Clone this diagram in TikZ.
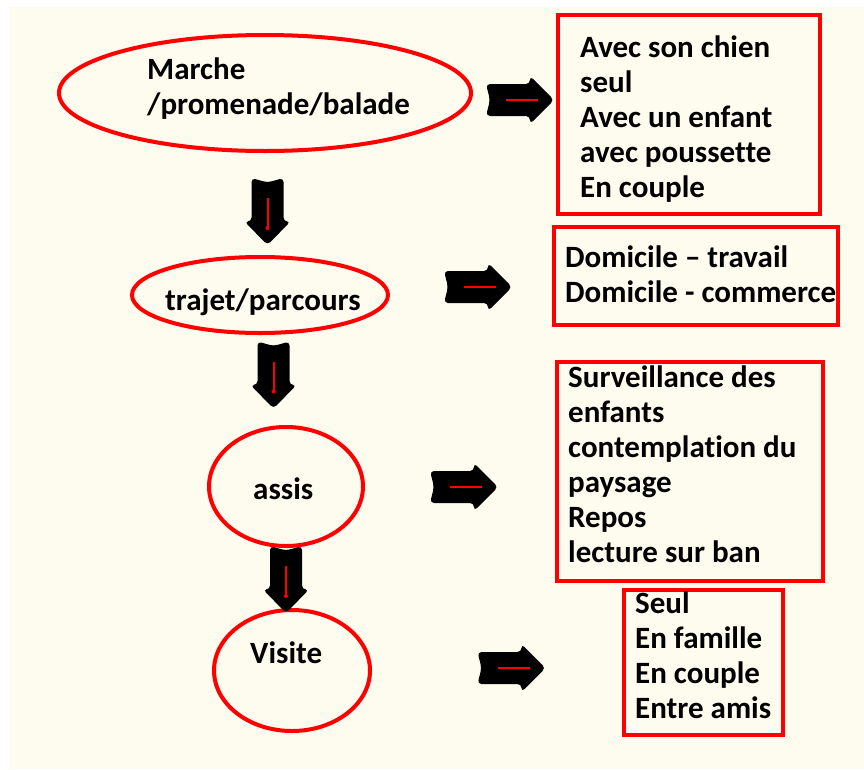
\documentclass[tikz,border=0pt]{standalone}
\usepackage{fontspec}
\setmainfont{Carlito}[Ligatures=NoCommon]
\usetikzlibrary{shapes.geometric}
\definecolor{cream}{RGB}{254,251,239}
\tikzset{
  oval/.style={ellipse, draw=red, line width=4pt, inner sep=0pt},
  redbox/.style={rectangle, draw=red, line width=4pt, inner sep=0pt},
  txt/.style={anchor=north west, inner sep=0pt, align=left,
    font=\fontsize{31}{35}\selectfont\bfseries},
  rarrow/.pic={
    \fill[black, rounded corners=4pt] (-34,-16) -- (10,-16) -- (10,-24) -- (34,0)
      -- (10,24) -- (10,16) -- (-34,16) -- (-30,0) -- cycle;
    \draw[red, line width=2pt] (-14,0) -- (18,0);
  },
  darrow/.pic={
    \fill[black, rounded corners=4pt] (-16,-33.5) -- (0,-29) -- (16,-33.5)
      -- (16,10) -- (23,10) -- (0,33.5) -- (-23,10) -- (-16,10) -- cycle;
    \draw[red, line width=2pt] (0,-13.5) -- (0,16.5);
    \fill[red] (0,16.5) circle (2pt);
  }
}
\begin{document}
\begin{tikzpicture}[x=1pt,y=-1pt]
\useasboundingbox (0,0) rectangle (864,769);
\fill[white] (0,0) rectangle (864,769);
\fill[cream] (9,7) rectangle (864,769);

% ovals
\node[oval, minimum width=412pt, minimum height=116pt] (e1) at (265,93) {};
\node[oval, minimum width=256pt, minimum height=76pt] (e2) at (260,295) {};
\node[oval, minimum width=154pt, minimum height=119pt] (e3) at (286,486.5) {};
\node[oval, minimum width=156pt, minimum height=121pt] (e4) at (292,670.5) {};

\node[txt] (t1) at (147,54.5) {\strut Marche\\\strut /promenade/balade};
\node[txt] (t2) at (165,285.5) {\strut trajet/parcours};
\node[txt] (t3) at (253,474.5) {\strut assis};
\node[txt] (t4) at (250,638.5) {\strut Visite};

% boxes
\node[redbox, minimum width=262pt, minimum height=199pt] (b1) at (689,114.5) {};
\node[redbox, minimum width=284pt, minimum height=98pt] (b2) at (696,276) {};
\node[redbox, minimum width=266pt, minimum height=219pt] (b3) at (690,471.5) {};
\node[redbox, minimum width=159pt, minimum height=145pt] (b4) at (703.5,662.5) {};

\node[txt] (s1) at (580,32.5) {\strut Avec son chien\\\strut seul\\\strut Avec un enfant\\\strut avec poussette\\\strut En couple};
\node[txt] (s2) at (565,242.5) {\strut Domicile – travail\\\strut Domicile - commerce};
\node[txt] (s3) at (568,362.5) {\strut Surveillance des\\\strut enfants\\\strut contemplation du\\\strut paysage\\\strut Repos\\\strut lecture sur ban};
\node[txt] (s4) at (635,588.5) {\strut Seul\\\strut En famille\\\strut En couple\\\strut Entre amis};

% block arrows
\pic (ra1) at (520,100) {rarrow};
\pic (ra2) at (478,287) {rarrow};
\pic (ra3) at (464,487) {rarrow};
\pic (ra4) at (511.5,668) {rarrow};
\pic (da1) at (267.5,211.5) {darrow};
\pic (da2) at (273.5,375) {darrow};
\pic (da3) at (286,579.5) {darrow};
\end{tikzpicture}
\end{document}
